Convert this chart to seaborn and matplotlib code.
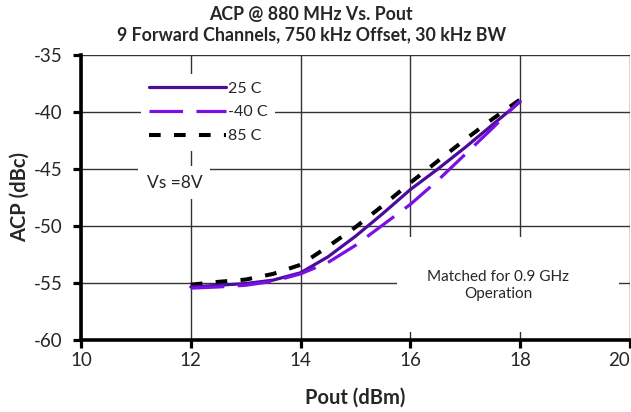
import matplotlib
matplotlib.use("Agg")
import matplotlib.pyplot as plt
import seaborn as sns
from matplotlib.patches import Rectangle

# data
pout = [12, 12.5, 13, 13.5, 14, 14.5, 15, 15.5, 16, 16.5, 17, 17.5, 18]
acp_25c = [-55.35, -55.2, -55.05, -54.75, -54.1, -52.7, -50.9, -48.9, -46.8, -45.0, -43.1, -41.1, -39.1]
acp_m40c = [-55.45, -55.35, -55.2, -54.85, -54.2, -53.2, -51.7, -49.9, -48.1, -46.0, -43.7, -41.4, -39.0]
acp_85c = [-55.15, -54.9, -54.7, -54.2, -53.4, -51.8, -50.1, -48.2, -46.2, -44.3, -42.4, -40.6, -38.9]

x_ticks = [10, 12, 14, 16, 18, 20]
y_ticks = [-60, -55, -50, -45, -40, -35]

sns.set_style("white")
plt.rcParams['font.family'] = ['Lato', 'DejaVu Sans']
plt.rcParams['axes.unicode_minus'] = False

fig = plt.figure(figsize=(6.31, 4.12), dpi=100)
ax = fig.add_axes([0.1284, 0.1748, 0.870, 0.6917])

# draw order: 85 C underneath, -40 C on top
sns.lineplot(x=pout, y=acp_85c, ax=ax, color="black", linewidth=2.9, label="85 C")
ax.lines[-1].set_dashes((2.9, 3.3))
sns.lineplot(x=pout, y=acp_25c, ax=ax, color="#4B0C9C", linewidth=2.3, label="25 C")
sns.lineplot(x=pout, y=acp_m40c, ax=ax, color="#7A10E4", linewidth=2.3, label="-40 C")
ax.lines[-1].set_dashes((10.5, 4.2))

ax.set_xlim(10, 20)
ax.set_ylim(-60, -35)
ax.set_xticks(x_ticks)
ax.set_yticks(y_ticks)
ax.tick_params(axis="both", labelsize=13.5, direction="out", length=6, width=2.3,
               color="black", left=True, bottom=True)
ax.tick_params(axis="y", pad=7)
ax.tick_params(axis="x", pad=3)
# last x label sits inside the figure edge, as in the original
ax.get_xticklabels()[-1].set_horizontalalignment("right")
ax.get_xticklabels()[-1].set_x(20)

ax.set_axisbelow(True)
ax.grid(True, color="#333333", linewidth=1.0)
for side in ["top", "right"]:
    ax.spines[side].set_visible(False)
for side in ["left", "bottom"]:
    ax.spines[side].set_color("black")
    ax.spines[side].set_linewidth(2.6)

ax.set_xlabel("Pout (dBm)", fontsize=14.5, fontweight="bold", labelpad=13)
ax.set_ylabel("ACP (dBc)", fontsize=14.5, fontweight="bold", labelpad=3)

fig.suptitle("ACP @ 880 MHz Vs. Pout\n9 Forward Channels, 750 kHz Offset, 30 kHz BW",
             x=0.493, y=0.985, va="top", fontsize=12.8, fontweight="bold", linespacing=1.2)

# legend with white box over the grid
lines = {l.get_label(): l for l in ax.lines}
order = ["25 C", "-40 C", "85 C"]
leg = ax.legend([lines[k] for k in order], order, loc="upper left",
                bbox_to_anchor=(0.11, 0.935), borderaxespad=0, frameon=True,
                fontsize=11.5, handlelength=4.8, handletextpad=0.1, labelspacing=0.6,
                borderpad=0.5)
leg.get_frame().set_facecolor("white")
leg.get_frame().set_edgecolor("none")
leg.get_frame().set_alpha(1)

ax.text(11.7, -46.2, "Vs =8V", fontsize=12.5, ha="center", va="center",
        bbox=dict(facecolor="white", edgecolor="none", pad=6))

ax.add_patch(Rectangle((0.575, 0.028), 0.405, 0.333, transform=ax.transAxes,
                       facecolor="white", edgecolor="none", zorder=1))
ax.text(17.6, -55.2, "Matched for 0.9 GHz\nOperation", fontsize=11, ha="center",
        va="center", linespacing=1.25, zorder=3)

plt.savefig("out.png", dpi=100)
